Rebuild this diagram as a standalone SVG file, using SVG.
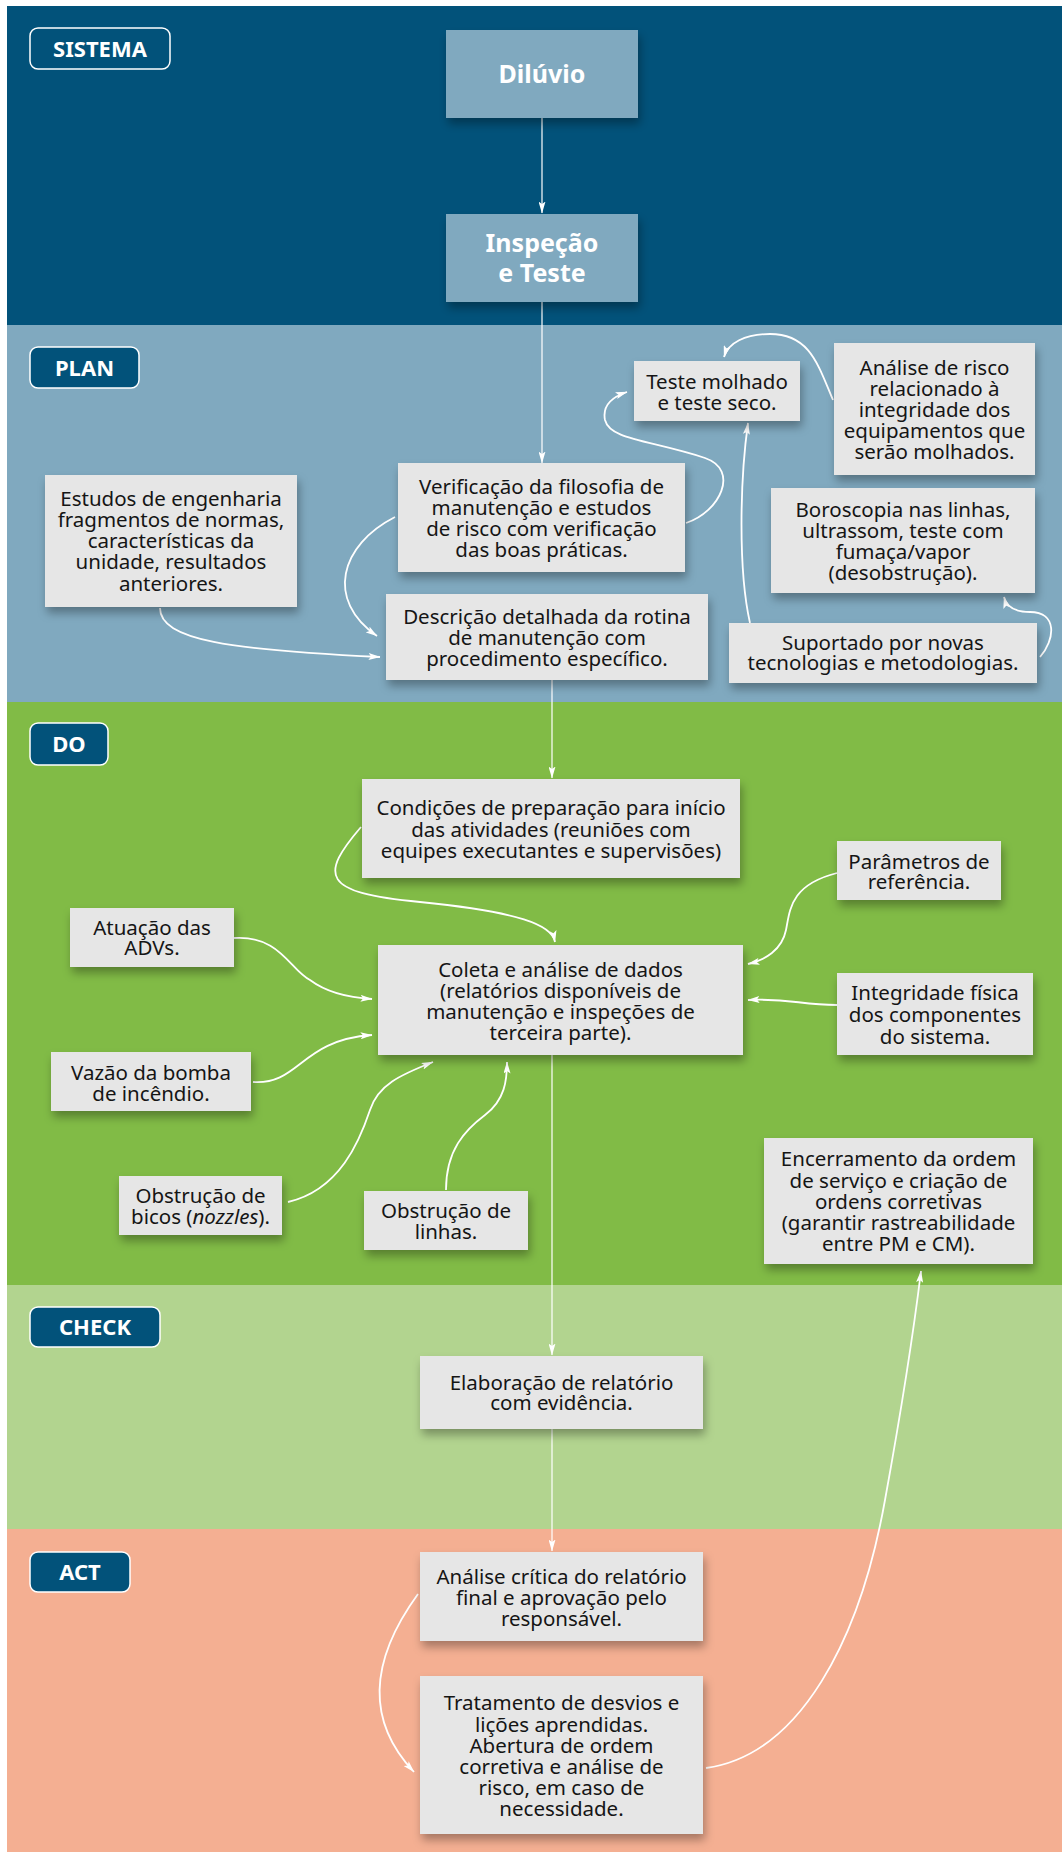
<svg xmlns="http://www.w3.org/2000/svg" width="1062" height="1852" viewBox="0 0 1062 1852">
  <defs>
    <filter id="shadow" x="-20%" y="-20%" width="140%" height="150%">
      <feDropShadow dx="2" dy="6" stdDeviation="5" flood-color="#000" flood-opacity="0.32"/>
    </filter>
    <marker id="arrow" viewBox="0 0 12 7" refX="11.5" refY="3.5" markerWidth="12" markerHeight="7" markerUnits="userSpaceOnUse" orient="auto">
      <path d="M0,0 L12,3.5 L0,7 L2.5,3.5 z" fill="#fff"/>
    </marker>
  </defs>
  <style>
    .box { fill: #e6e6e6; filter: url(#shadow); }
    .hdr { fill: #80a9bf; filter: url(#shadow); }
    .tag { fill: #02527a; stroke: #fff; stroke-width: 1.5; }
    .t { font-family: "Noto Sans", "Open Sans", sans-serif; font-size: 20.5px; fill: #151515; text-anchor: middle; }
    .th { font-family: "Noto Sans", "Open Sans", sans-serif; font-size: 25px; font-weight: bold; fill: #fff; text-anchor: middle; }
    .tt { font-family: "Noto Sans", "Open Sans", sans-serif; font-size: 22px; font-weight: bold; fill: #fff; text-anchor: middle; }
    .main { fill: none; stroke: #fff; stroke-width: 1.2; marker-end: url(#arrow); }
    .cur { fill: none; stroke: #fff; stroke-width: 1.8; marker-end: url(#arrow); }
  </style>

  <!-- phase bands -->
  <g id="bands">
    <rect x="7" y="6" width="1055" height="319" fill="#02527a"/>
    <rect x="7" y="325" width="1055" height="377" fill="#80a9bf"/>
    <rect x="7" y="702" width="1055" height="583" fill="#81bb46"/>
    <rect x="7" y="1285" width="1055" height="244" fill="#b2d48f"/>
    <rect x="7" y="1529" width="1055" height="323" fill="#f4af92"/>
  </g>

  <!-- phase tags -->
  <g id="tag-sistema"><rect class="tag" x="30" y="28" width="140" height="41" rx="8"/><text class="tt" x="100" y="56.5">SISTEMA</text></g>
  <g id="tag-plan"><rect class="tag" x="30" y="347" width="109" height="41" rx="8"/><text class="tt" x="84.5" y="375.5">PLAN</text></g>
  <g id="tag-do"><rect class="tag" x="30" y="723" width="78" height="42" rx="8"/><text class="tt" x="69" y="752">DO</text></g>
  <g id="tag-check"><rect class="tag" x="30" y="1307" width="130" height="40" rx="8"/><text class="tt" x="95" y="1335">CHECK</text></g>
  <g id="tag-act"><rect class="tag" x="30" y="1552" width="100" height="40" rx="8"/><text class="tt" x="80" y="1580">ACT</text></g>

  <!-- connectors -->
  <g id="connectors">
    <path class="main" d="M542,118 L542,213"/>
    <path class="main" d="M542,302 L542,463"/>
    <path class="main" d="M552,680 L552,778"/>
    <path class="main" d="M552,1055 L552,1355"/>
    <path class="main" d="M552,1429 L552,1551"/>
    <path class="cur" d="M833,400 C818,365 810,334 770,334 C745,334 728,343 724,357"/>
    <path class="cur" d="M686,523 C720,512 740,470 705,458 C650,440 610,440 605,420 C602,405 612,397 627,392"/>
    <path class="cur" d="M395,517 C340,545 325,600 377,636"/>
    <path class="cur" d="M160,608 C160,640 230,650 380,657"/>
    <path class="cur" d="M750,623 C738,570 740,480 748,423"/>
    <path class="cur" d="M1040,657 C1055,640 1058,612 1030,612 C1012,612 1006,605 1004,597"/>
    <path class="cur" d="M361,827 C320,875 320,893 420,902 C520,912 552,925 555,942"/>
    <path class="cur" d="M837,873 C790,885 790,910 786,930 C782,950 765,960 748,964"/>
    <path class="cur" d="M837,1005 C800,1005 790,998 748,1000"/>
    <path class="cur" d="M234,938 C280,935 290,970 310,980 C330,995 355,998 372,999"/>
    <path class="cur" d="M253,1082 C300,1085 300,1040 372,1035"/>
    <path class="cur" d="M288,1202 C340,1190 360,1140 370,1110 C378,1085 400,1075 433,1062"/>
    <path class="cur" d="M446,1190 C446,1150 465,1130 485,1115 C505,1100 507,1080 507,1062"/>
    <path class="cur" d="M418,1594 C370,1660 365,1720 414,1772"/>
    <path class="cur" d="M706,1768 C800,1755 860,1640 885,1500 C905,1390 915,1320 921,1271"/>
  </g>

  <!-- SISTEMA -->
  <g id="diluvio"><rect class="hdr" x="446" y="30" width="192" height="88"/><text class="th" x="542" y="83">Dilúvio</text></g>
  <g id="inspecao"><rect class="hdr" x="446" y="214" width="192" height="88"/><text class="th" x="542" y="252">Inspeção</text><text class="th" x="542" y="282">e Teste</text></g>

  <!-- PLAN -->
  <g id="teste-molhado"><rect class="box" x="634" y="361" width="166" height="60"/>
    <text class="t" x="717" y="389">Teste molhado</text><text class="t" x="717" y="410">e teste seco.</text></g>
  <g id="analise-risco"><rect class="box" x="834" y="343" width="201" height="132"/>
    <text class="t" x="934.5" y="375">Análise de risco</text><text class="t" x="934.5" y="396">relacionado à</text><text class="t" x="934.5" y="417">integridade dos</text><text class="t" x="934.5" y="438">equipamentos que</text><text class="t" x="934.5" y="459">serão molhados.</text></g>
  <g id="verificacao"><rect class="box" x="398" y="463" width="287" height="109"/>
    <text class="t" x="541.5" y="494">Verificação da filosofia de</text><text class="t" x="541.5" y="515">manutenção e estudos</text><text class="t" x="541.5" y="536">de risco com verificação</text><text class="t" x="541.5" y="557">das boas práticas.</text></g>
  <g id="estudos"><rect class="box" x="45" y="475" width="252" height="132"/>
    <text class="t" x="171" y="506">Estudos de engenharia</text><text class="t" x="171" y="527">fragmentos de normas,</text><text class="t" x="171" y="548">características da</text><text class="t" x="171" y="569">unidade, resultados</text><text class="t" x="171" y="591">anteriores.</text></g>
  <g id="descricao"><rect class="box" x="386" y="594" width="322" height="86"/>
    <text class="t" x="547" y="624">Descrição detalhada da rotina</text><text class="t" x="547" y="645">de manutenção com</text><text class="t" x="547" y="666">procedimento específico.</text></g>
  <g id="boroscopia"><rect class="box" x="771" y="488" width="264" height="105"/>
    <text class="t" x="903" y="517">Boroscopia nas linhas,</text><text class="t" x="903" y="538">ultrassom, teste com</text><text class="t" x="903" y="559">fumaça/vapor</text><text class="t" x="903" y="580">(desobstrução).</text></g>
  <g id="suportado"><rect class="box" x="729" y="623" width="308" height="60"/>
    <text class="t" x="883" y="650">Suportado por novas</text><text class="t" x="883" y="670">tecnologias e metodologias.</text></g>

  <!-- DO -->
  <g id="condicoes"><rect class="box" x="362" y="779" width="378" height="99"/>
    <text class="t" x="551" y="815">Condições de preparação para início</text><text class="t" x="551" y="837">das atividades (reuniões com</text><text class="t" x="551" y="858">equipes executantes e supervisões)</text></g>
  <g id="parametros"><rect class="box" x="837" y="841" width="164" height="59"/>
    <text class="t" x="919" y="869">Parâmetros de</text><text class="t" x="919" y="889">referência.</text></g>
  <g id="atuacao"><rect class="box" x="70" y="908" width="164" height="59"/>
    <text class="t" x="152" y="935">Atuação das</text><text class="t" x="152" y="955">ADVs.</text></g>
  <g id="coleta"><rect class="box" x="378" y="945" width="365" height="110"/>
    <text class="t" x="560.5" y="977">Coleta e análise de dados</text><text class="t" x="560.5" y="998">(relatórios disponíveis de</text><text class="t" x="560.5" y="1019">manutenção e inspeções de</text><text class="t" x="560.5" y="1040">terceira parte).</text></g>
  <g id="integridade"><rect class="box" x="837" y="973" width="196" height="82"/>
    <text class="t" x="935" y="1000">Integridade física</text><text class="t" x="935" y="1022">dos componentes</text><text class="t" x="935" y="1044">do sistema.</text></g>
  <g id="vazao"><rect class="box" x="51" y="1052" width="200" height="59"/>
    <text class="t" x="151" y="1080">Vazão da bomba</text><text class="t" x="151" y="1101">de incêndio.</text></g>
  <g id="obstrucao-bicos"><rect class="box" x="119" y="1176" width="163" height="59"/>
    <text class="t" x="200.5" y="1203">Obstrução de</text><text class="t" x="200.5" y="1224">bicos (<tspan font-style="italic">nozzles</tspan>).</text></g>
  <g id="obstrucao-linhas"><rect class="box" x="364" y="1191" width="164" height="59"/>
    <text class="t" x="446" y="1218">Obstrução de</text><text class="t" x="446" y="1239">linhas.</text></g>
  <g id="encerramento"><rect class="box" x="764" y="1138" width="269" height="126"/>
    <text class="t" x="898.5" y="1166">Encerramento da ordem</text><text class="t" x="898.5" y="1188">de serviço e criação de</text><text class="t" x="898.5" y="1209">ordens corretivas</text><text class="t" x="898.5" y="1230">(garantir rastreabilidade</text><text class="t" x="898.5" y="1251">entre PM e CM).</text></g>

  <!-- CHECK -->
  <g id="elaboracao"><rect class="box" x="420" y="1356" width="283" height="73"/>
    <text class="t" x="561.5" y="1390">Elaboração de relatório</text><text class="t" x="561.5" y="1410">com evidência.</text></g>

  <!-- ACT -->
  <g id="analise-critica"><rect class="box" x="420" y="1552" width="283" height="89"/>
    <text class="t" x="561.5" y="1584">Análise crítica do relatório</text><text class="t" x="561.5" y="1605">final e aprovação pelo</text><text class="t" x="561.5" y="1626">responsável.</text></g>
  <g id="tratamento"><rect class="box" x="420" y="1676" width="283" height="158"/>
    <text class="t" x="561.5" y="1710">Tratamento de desvios e</text><text class="t" x="561.5" y="1732">lições aprendidas.</text><text class="t" x="561.5" y="1753">Abertura de ordem</text><text class="t" x="561.5" y="1774">corretiva e análise de</text><text class="t" x="561.5" y="1795">risco, em caso de</text><text class="t" x="561.5" y="1816">necessidade.</text></g>
</svg>
